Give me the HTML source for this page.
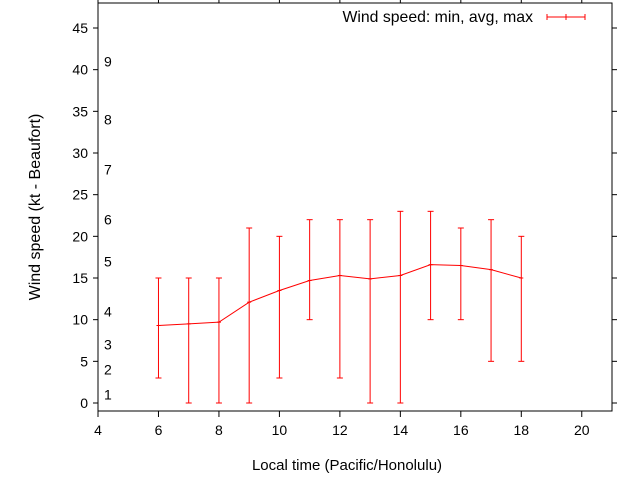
<!DOCTYPE html>
<html><head><meta charset="utf-8"><style>
body{margin:0;background:#fff;}
svg{display:block;font-family:"Liberation Sans",sans-serif;font-size:14px;}
</style></head><body>
<svg id="c" width="640" height="480"></svg>
<script>
const hours=[6,7,8,9,10,11,12,13,14,15,16,17,18];
const avgSpeed=[9.3,9.5,9.7,12.1,13.5,14.7,15.3,14.9,15.3,16.6,16.5,16.0,15.0];
const minSpeed=[3,0,0,0,3,10,3,0,0,10,10,5,5];
const maxSpeed=[15,15,15,21,20,22,22,22,23,23,21,22,20];
const xTicks=[4,6,8,10,12,14,16,18,20];
const yTicks=[0,5,10,15,20,25,30,35,40,45];
const beaufortLabels=["1","2","3","4","5","6","7","8","9"];
const beaufortPos=[1,4,7,11,17,22,28,34,41];
const NS="http://www.w3.org/2000/svg";
const svg=document.getElementById('c');
const L=98,R=612,T=3,B=411;
const X=v=>L+(v-4)*(R-L)/17;
const Y=v=>403-v*(375/45);
function el(t,a,p){const e=document.createElementNS(NS,t);for(const k in a)e.setAttribute(k,a[k]);(p||svg).appendChild(e);return e;}
function txt(s,x,y,anchor,name,fs){const e=el('text',{x:x,y:y,'text-anchor':anchor,fill:'#000'});if(fs)e.setAttribute('font-size',fs);e.textContent=s;return e;}
const frame=el('rect',{x:L,y:T,width:R-L,height:B-T,fill:'none',stroke:'#000','stroke-width':1});

xTicks.forEach(v=>{const x=X(v);
 const t=el('line',{x1:x,y1:B,x2:x,y2:B+6,stroke:'#000'});
 const t2=el('line',{x1:x,y1:T,x2:x,y2:T-6,stroke:'#000'});
 txt(String(v),x,B+24,'middle','x-tick-label');});
yTicks.forEach(v=>{const y=Y(v);
 const t=el('line',{x1:L,y1:y,x2:L-5,y2:y,stroke:'#000'});
 const t2=el('line',{x1:R,y1:y,x2:R+5,y2:y,stroke:'#000'});
 txt(String(v),L-10,y+5,'end','y-tick-label');});
beaufortLabels.forEach((s,i)=>txt(s,104,Y(beaufortPos[i])+5,'start','beaufort-label'));
const pts=hours.map((h,i)=>X(h)+','+Y(avgSpeed[i])).join(' ');
const pl=el('polyline',{points:pts,fill:'none',stroke:'#f00','stroke-width':1});

hours.forEach((h,i)=>{const x=X(h),g=el('g',{stroke:'#f00','stroke-width':1});
 
 el('line',{x1:x,y1:Y(minSpeed[i]),x2:x,y2:Y(maxSpeed[i])},g);
 el('line',{x1:x-3,y1:Y(minSpeed[i]),x2:x+3,y2:Y(minSpeed[i])},g);
 el('line',{x1:x-3,y1:Y(maxSpeed[i]),x2:x+3,y2:Y(maxSpeed[i])},g);
 el('line',{x1:x-2,y1:Y(avgSpeed[i]),x2:x+2,y2:Y(avgSpeed[i])},g);});
txt('Wind speed: min, avg, max',533,22,'end','legend-label',15.8);
const lg=el('g',{stroke:'#f00'});
el('line',{x1:547,y1:17,x2:585,y2:17},lg);el('line',{x1:547,y1:14,x2:547,y2:20},lg);el('line',{x1:585,y1:14,x2:585,y2:20},lg);el('line',{x1:566,y1:14,x2:566,y2:20},lg);
txt('Local time (Pacific/Honolulu)',347,470,'middle','x-axis-title',15);
const yt=txt('Wind speed (kt - Beaufort)',0,0,'middle','y-axis-title',16);yt.setAttribute('transform','translate(40,207) rotate(-90)');
</script>
</body></html>
